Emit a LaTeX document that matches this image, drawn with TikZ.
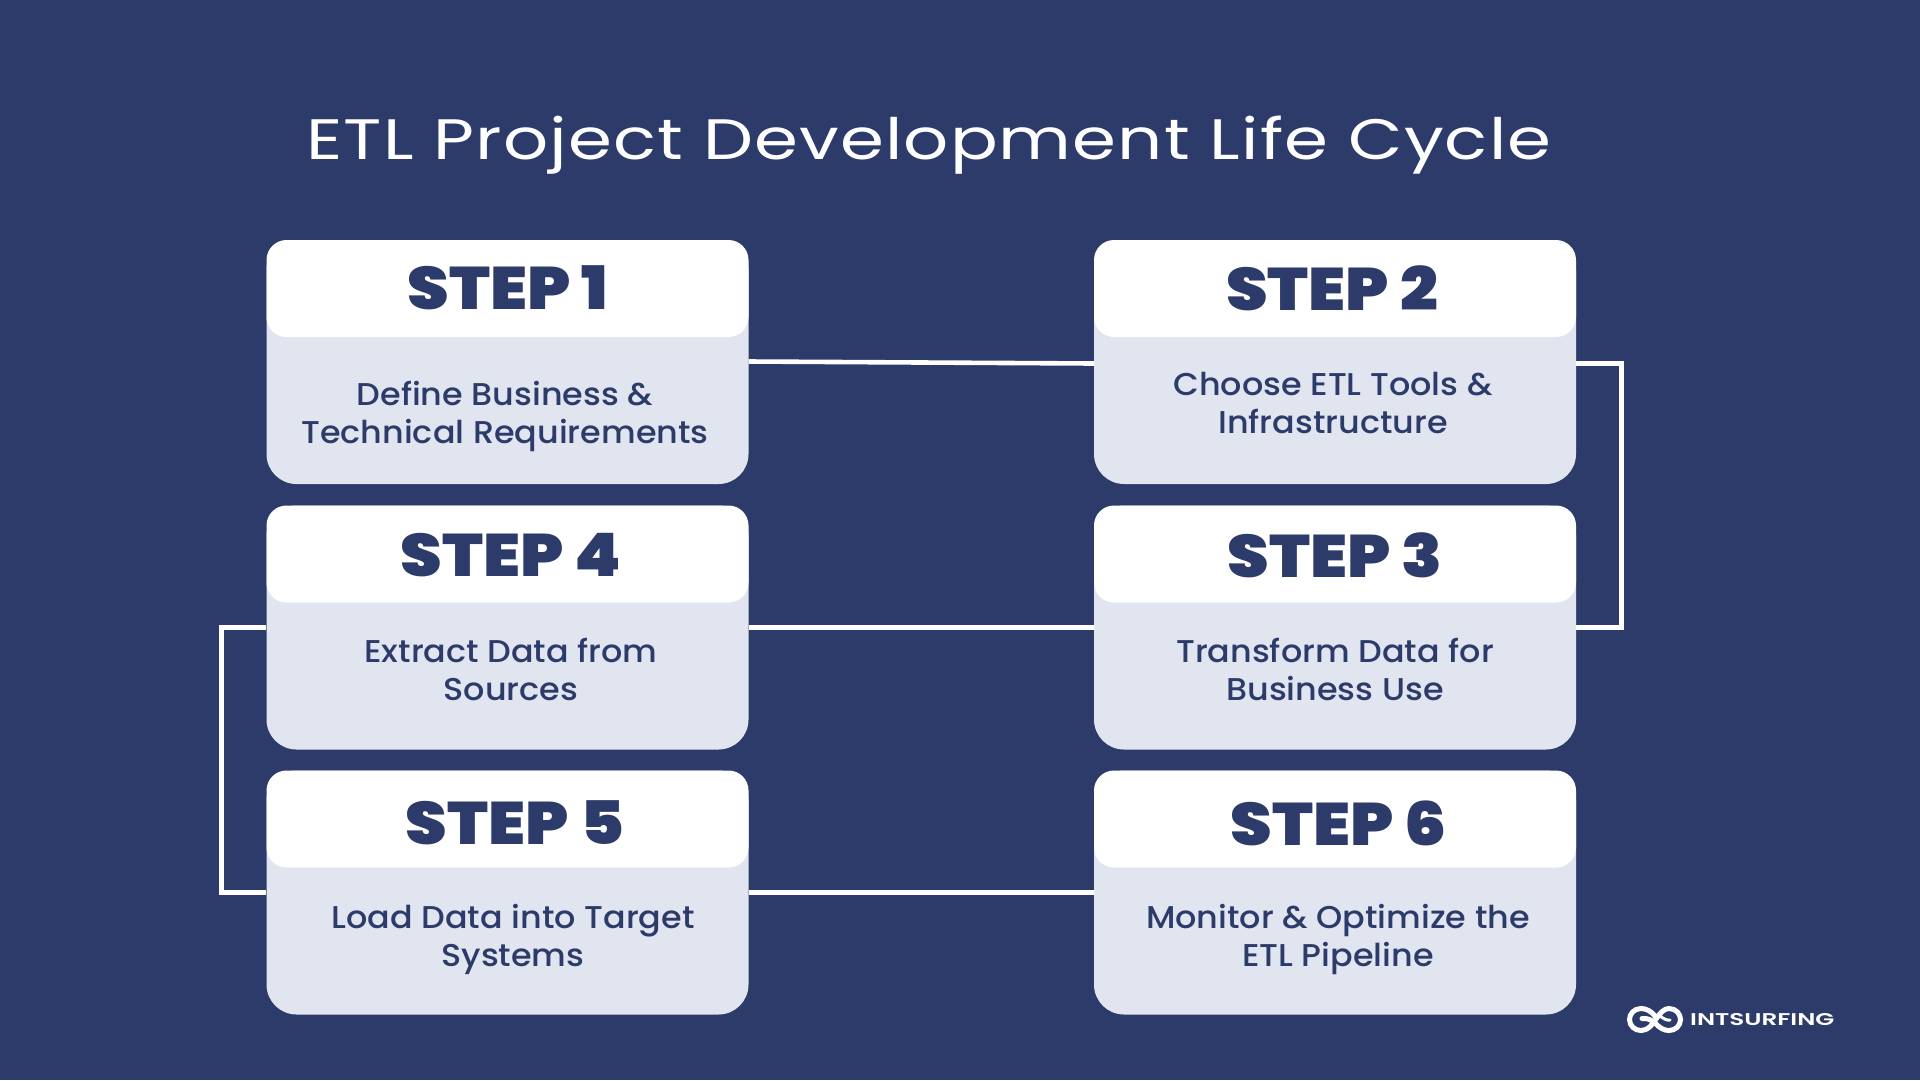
\documentclass[tikz,border=0pt]{standalone}
\usepackage{fontspec}
\setmainfont{Poppins}
\newfontfamily\stepfont[FakeStretch=1.11]{Poppins Black}
\newfontfamily\bodyfont[FakeStretch=1.06]{Poppins Medium}
\newfontfamily\titlefont[FakeStretch=1.24,LetterSpace=2]{Poppins}
\newfontfamily\logofont[FakeStretch=1.45]{Poppins SemiBold}
\definecolor{bgnavy}{HTML}{2D3B6B}
\definecolor{cardfill}{HTML}{E1E5F0}
\tikzset{
  body card/.style={fill=cardfill,rounded corners=30,minimum width=482,minimum height=244,inner sep=0,anchor=center},
  head card/.style={fill=white,rounded corners=20,minimum width=482,minimum height=97,inner sep=0,anchor=north},
  step label/.style={text=bgnavy,font=\stepfont\fontsize{60}{60}\selectfont,inner sep=0},
  body label/.style={text=bgnavy,font=\bodyfont\fontsize{31.5}{38}\selectfont,align=center,inner sep=0},
  link/.style={draw=white,line width=4.6,line join=miter},
  logo stroke/.style={draw=white,line width=5,line cap=round},
}
\begin{document}
\begin{tikzpicture}[x=1pt,y=-1pt]
\fill[bgnavy] (0,0) rectangle (1920,1080);
\useasboundingbox (0,0) rectangle (1920,1080);
\node[text=white,font=\titlefont\fontsize{57}{57}\selectfont,inner sep=0] (title) at (929,145) {ETL Project Development Life Cycle};
\node[body card] (card1) at (507.5,362) {};
\node[body card] (card2) at (1335,362) {};
\node[body card] (card4) at (507.5,627.5) {};
\node[body card] (card3) at (1335,627.5) {};
\node[body card] (card5) at (507.5,892.5) {};
\node[body card] (card6) at (1335,892.5) {};
\draw[link] ([yshift=0.5pt]card1.east) -- ([yshift=-1.5pt]card2.west);
\draw[link] ([yshift=-1.5pt]card2.east) -- ++(45,0) |- (card3.east);
\draw[link] (card3.west) -- (card4.east);
\draw[link] (card4.west) -- ++(-45,0) |- (card5.west);
\draw[link] (card5.east) -- (card6.west);
\node[head card] (head1) at (card1.north) {};
\node[head card] (head2) at (card2.north) {};
\node[head card] (head4) at (card4.north) {};
\node[head card] (head3) at (card3.north) {};
\node[head card] (head5) at (card5.north) {};
\node[head card] (head6) at (card6.north) {};
\node[step label] (s1) at (508,288) {STEP 1};
\node[step label] (s2) at (1332,288) {STEP 2};
\node[step label] (s4) at (511,555) {STEP 4};
\node[step label] (s3) at (1335,555) {STEP 3};
\node[step label] (s5) at (515,823) {STEP 5};
\node[step label] (s6) at (1339,823) {STEP 6};
\node[body label] (b1) at (505,416) {Define Business \&\\Technical Requirements};
\node[body label] (b2) at (1333,403) {Choose ETL Tools \&\\Infrastructure};
\node[body label] (b4) at (511,669) {Extract Data from\\Sources};
\node[body label] (b3) at (1335,669) {Transform Data for\\Business Use};
\node[body label] (b5) at (513,939) {Load Data into Target\\Systems};
\node[body label] (b6) at (1338,939) {Monitor \& Optimize the\\ETL Pipeline};
% logo
\draw[logo stroke] (1655,1016) .. controls (1651,1011) and (1646,1008.5) .. (1641,1008.5)
  .. controls (1634,1008.5) and (1629.5,1014) .. (1629.5,1019.5)
  .. controls (1629.5,1026) and (1635,1030.5) .. (1641,1030.5)
  .. controls (1648,1030.5) and (1652,1025) .. (1656,1019)
  .. controls (1660,1013) and (1664,1008.5) .. (1669,1008.5)
  .. controls (1676,1008.5) and (1680.5,1014) .. (1680.5,1019.5)
  .. controls (1680.5,1026) and (1675,1030.5) .. (1669,1030.5)
  .. controls (1664,1030.5) and (1660,1028) .. (1656,1024)
  .. controls (1652,1020) and (1648,1018) .. (1642,1018.5);
\draw[logo stroke,line width=3] (1660,1016) .. controls (1664,1019) and (1667,1020.5) .. (1670,1020);
\node[text=white,font=\logofont\fontsize{17}{17}\selectfont,inner sep=0,anchor=west] (logotext) at (1690,1019.5) {INTSURFING};
\end{tikzpicture}
\end{document}
